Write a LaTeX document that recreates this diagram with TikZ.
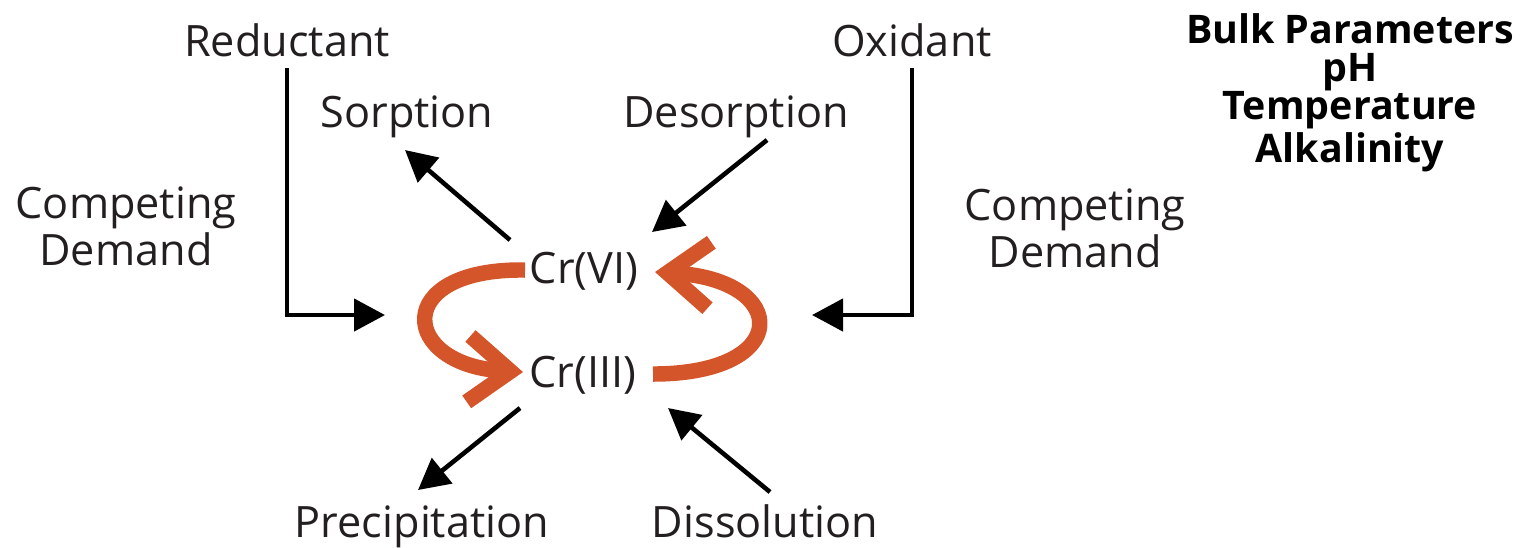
\documentclass[tikz,border=0pt]{standalone}
\usepackage{fontspec}
\setmainfont{Open Sans}
\usepackage{xcolor}
\usetikzlibrary{arrows.meta}
\definecolor{crorange}{HTML}{D4552A}
\definecolor{inkgray}{HTML}{231F20}

\begin{document}
\begin{tikzpicture}[
  lbl/.style={inner sep=1pt, text=inkgray, align=center, font=\fontsize{12.3}{10.6}\selectfont},
  bulk/.style={inner sep=1pt, align=center, font=\bfseries\fontsize{11.2}{10.9}\selectfont},
  arr/.style={line width=1.3pt, -{Triangle[length=3.1mm,width=3.2mm]}},
  redox/.style={line width=4.4pt, crorange, -{Straight Barb[length=4.2mm,width=6.6mm]}}
]
\useasboundingbox (0,0) rectangle (15.34,-5.47);

% ==== Chromium species ====
\node[lbl, anchor=base] (crvi) at (5.84,-2.83) {Cr(VI)};
\node[lbl, anchor=base] (criii) at (5.83,-3.87) {Cr(III)};

% ==== Processes ====
\node[lbl, anchor=base] (red) at (2.87,-0.56) {Reductant};
\node[lbl, anchor=base] (oxi) at (9.12,-0.56) {Oxidant};
\node[lbl, anchor=base] (sorp) at (4.07,-1.27) {Sorption};
\node[lbl, anchor=base] (desorp) at (7.36,-1.27) {Desorption};
\node[lbl, anchor=base] (prec) at (4.22,-5.37) {Precipitation};
\node[lbl, anchor=base] (diss) at (7.65,-5.37) {Dissolution};
\node[lbl] (cdl) at (1.26,-2.26) {Competing\\Demand};
\node[lbl] (cdr) at (10.75,-2.28) {Competing\\Demand};

% Bulk parameters
\node[bulk, anchor=north] (bulk) at (13.50,-0.09) {Bulk Parameters\\pH\\Temperature\\Alkalinity};

% ==== Reductant / oxidant feeds ====
\coordinate (redE) at (3.85,-3.15);
\coordinate (oxiE) at (8.12,-3.15);
\draw[arr, shorten <=0.12cm] (red.base) |- (redE);
\draw[arr, shorten <=0.12cm] (oxi.base) |- (oxiE);

% ==== Sorption / precipitation arrows ====
\draw[arr] ([shift={(-0.74,0.43)}]crvi.base) -- ([shift={(-0.02,-0.23)}]sorp.base);
\draw[arr] ([shift={(0.31,-0.13)}]desorp.base) -- ([shift={(0.68,0.51)}]crvi.base);
\draw[arr] ([shift={(-0.63,-0.21)}]criii.base) -- ([shift={(-0.04,0.47)}]prec.base);
\draw[arr] ([shift={(0.05,0.45)}]diss.base) -- ([shift={(0.85,-0.21)}]criii.base);

% ==== Redox cycle ====
\draw[redox] ([shift={(-0.59,0.13)}]crvi.base)
  .. controls +(-1.35,0.02) and +(-1.23,0.07) .. ([shift={(-0.60,0.15)}]criii.base);
\draw[redox] ([shift={(0.70,0.13)}]criii.base)
  .. controls +(1.40,0) and +(1.35,-0.08) .. ([shift={(0.71,0.11)}]crvi.base);

\end{tikzpicture}
\end{document}
